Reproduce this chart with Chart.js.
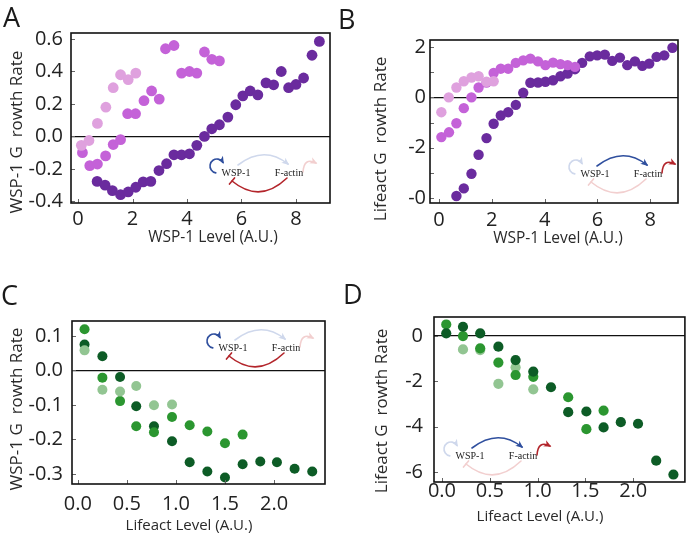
<!DOCTYPE html>
<html><head><meta charset="utf-8">
<script src="https://cdn.jsdelivr.net/npm/chart.js@4.4.0/dist/chart.umd.min.js"></script>
<style>
html,body{margin:0;padding:0;background:#fff;}
#wrap{position:relative;width:690px;height:533px;overflow:hidden;background:#fff;}
.pane{position:absolute;}
.letter{position:absolute;font-family:"Open Sans";font-size:27px;color:#1a1a1a;line-height:1;}
</style></head><body>
<div id="wrap">
<div class="pane" style="left:0;top:0;width:345px;height:255px"><canvas id="cA"></canvas></div>
<div class="pane" style="left:345px;top:0;width:345px;height:255px"><canvas id="cB"></canvas></div>
<div class="pane" style="left:0;top:255px;width:345px;height:278px"><canvas id="cC"></canvas></div>
<div class="pane" style="left:345px;top:255px;width:345px;height:278px"><canvas id="cD"></canvas></div>
<div class="letter" style="left:3px;top:3px">A</div>
<div class="letter" style="left:338px;top:5px">B</div>
<div class="letter" style="left:1px;top:281px">C</div>
<div class="letter" style="left:343px;top:280px">D</div>
</div>
<script>
// ---------- Panel A : WSP-1 growth rate vs WSP-1 level ----------
const aLevelLight = [0.12,0.40,0.71,1.02,1.29,1.56,1.84,2.12];
const aRateLight  = [-0.055,-0.025,0.08,0.18,0.30,0.38,0.35,0.39];
const aLevelMid   = [0.16,0.43,0.71,1.01,1.29,1.56,1.82,2.11,2.42,2.70,2.98,3.21,3.52,3.80,4.09,4.36,4.64,4.91,5.19];
const aRateMid    = [-0.10,-0.18,-0.17,-0.12,-0.05,-0.02,0.14,0.14,0.22,0.28,0.23,0.54,0.56,0.39,0.40,0.39,0.52,0.475,0.465];
const aLevelDark  = [0.70,0.99,1.26,1.56,1.84,2.12,2.39,2.67,2.97,3.25,3.52,3.80,4.09,4.36,4.64,4.91,5.19,5.50,5.79,6.05,6.32,6.60,6.90,7.18,7.46,7.73,8.00,8.28,8.59,8.86];
const aRateDark   = [-0.277,-0.30,-0.334,-0.359,-0.342,-0.313,-0.28,-0.277,-0.21,-0.168,-0.113,-0.113,-0.107,-0.055,0.0,0.047,0.072,0.119,0.195,0.25,0.28,0.256,0.33,0.318,0.40,0.30,0.32,0.36,0.50,0.585];
const aXTickValues = [0,2,4,6,8];
const aXTickLabels = ['0','2','4','6','8'];
const aYTickValues = [0.6,0.4,0.2,0,-0.2,-0.4];
const aYTickLabels = ['0.6','0.4','0.2','0.0','-0.2','-0.4'];

// ---------- Panel B : Lifeact growth rate vs WSP-1 level ----------
const bLevelLight = [0.09,0.37,0.66,0.94,1.23,1.50,1.80,2.07];
const bRateLight  = [-0.59,0.0,0.39,0.64,0.79,0.84,0.62,0.64];
const bLevelMid   = [0.09,0.38,0.66,0.94,1.23,1.50,1.80,2.07,2.34,2.62,2.91,3.19,3.46,3.75,4.03,4.32,4.60,4.87,5.15];
const bRateMid    = [-1.58,-1.39,-1.03,-0.43,0.0,0.39,0.59,0.97,1.14,1.14,1.37,1.47,1.54,1.43,1.28,1.38,1.32,1.28,1.21];
const bLevelDark  = [0.66,0.94,1.23,1.50,1.80,2.07,2.34,2.62,2.91,3.19,3.46,3.75,4.03,4.32,4.60,4.87,5.15,5.42,5.71,5.99,6.28,6.56,6.85,7.13,7.42,7.70,7.96,8.24,8.53,8.84];
const bRateDark   = [-3.92,-3.62,-3.04,-2.28,-1.62,-1.05,-0.72,-0.59,-0.30,0.18,0.58,0.59,0.62,0.68,0.84,0.95,1.12,1.37,1.63,1.67,1.70,1.45,1.58,1.28,1.43,1.25,1.34,1.61,1.67,1.97];
const bXTickValues = [0,2,4,6,8];
const bXTickLabels = ['0','2','4','6','8'];
const bYTickValues = [2,1,0,-1,-2,-3,-4];
const bYTickLabels = ['2','','0','','-2','','-0'];

// ---------- Panel C : WSP-1 growth rate vs Lifeact level ----------
const cLevelDark  = [0.068,0.25,0.43,0.595,0.776,0.96,1.14,1.32,1.50,1.68,1.86,2.03,2.21,2.39];
const cRateDark   = [0.075,0.041,-0.019,-0.104,-0.162,-0.205,-0.266,-0.293,-0.31,-0.272,-0.264,-0.266,-0.285,-0.293];
const cLevelMid   = [0.068,0.25,0.43,0.595,0.776,0.96,1.14,1.32,1.50,1.68];
const cRateMid    = [0.119,-0.021,-0.089,-0.162,-0.179,-0.135,-0.159,-0.177,-0.211,-0.186];
const cLevelLight = [0.068,0.25,0.43,0.595,0.776,0.96];
const cRateLight  = [0.058,-0.056,-0.061,-0.045,-0.101,-0.099];
const cXTickValues = [0,0.5,1,1.5,2];
const cXTickLabels = ['0.0','0.5','1.0','1.5','2.0'];
const cYTickValues = [0.1,0,-0.1,-0.2,-0.3];
const cYTickLabels = ['0.1','0.0','-0.1','-0.2','-0.3'];

// ---------- Panel D : Lifeact growth rate vs Lifeact level ----------
const dLevelDark  = [0.045,0.22,0.40,0.59,0.77,0.955,1.14,1.32,1.51,1.69,1.87,2.05,2.24,2.42];
const dRateDark   = [0.12,0.41,0.12,-0.47,-1.06,-1.57,-2.26,-3.36,-3.33,-4.03,-3.80,-3.87,-5.50,-6.11];
const dLevelMid   = [0.045,0.22,0.40,0.59,0.77,0.955,1.32,1.51,1.69];
const dRateMid    = [0.51,0.0,-0.54,-1.17,-1.72,-1.80,-2.70,-4.11,-3.29];
const dLevelLight = [0.22,0.40,0.59,0.77,0.955];
const dRateLight  = [-0.59,-0.62,-2.11,-1.38,-2.35];
const dXTickValues = [0,0.5,1,1.5,2];
const dXTickLabels = ['0.0','0.5','1.0','1.5','2.0'];
const dYTickValues = [0,-2,-4,-6];
const dYTickLabels = ['0','-2','-4','-6'];

const PURPLE = {light:'#dfa1de', mid:'#c462d8', dark:'#6a2b9e'};
const GREEN  = {light:'#92c592', mid:'#2b9630', dark:'#0d5c26'};

function pts(xs, ys){ return xs.map((x,i)=>({x:x, y:ys[i]})); }

function ds(label, xs, ys, color, r){
  return {label:label, data:pts(xs,ys), backgroundColor:color, borderWidth:0,
          pointRadius:r, pointHoverRadius:r};
}

function arrowHead(ctx, x, y, ang, size, color){
  ctx.save(); ctx.translate(x,y); ctx.rotate(ang);
  ctx.beginPath(); ctx.moveTo(1.5,0); ctx.lineTo(-size,-size*0.55); ctx.lineTo(-size*0.65,0); ctx.lineTo(-size,size*0.55); ctx.closePath();
  ctx.fillStyle=color; ctx.fill(); ctx.restore();
}

function drawInset(ctx, cx, cy, mode){
  const blue='#2f4f9e', fadeBlue='#cfd8ec', red='#b3252b', fadePink='#f2cfcf';
  const selfC  = mode==='wsp' ? blue : fadeBlue;
  const topC   = mode==='wsp' ? fadeBlue : blue;
  const rightC = mode==='wsp' ? fadePink : red;
  const botC   = mode==='wsp' ? red : fadePink;
  const D = Math.PI/180;
  ctx.save();
  ctx.lineWidth = 1.6; ctx.lineCap='round';
  const lx=cx-19, ly=cy-7, r=7;
  ctx.strokeStyle=selfC; ctx.beginPath(); ctx.arc(lx,ly,r,100*D,330*D); ctx.stroke();
  arrowHead(ctx, lx+r*Math.cos(330*D), ly+r*Math.sin(330*D), 60*D, 6, selfC);
  ctx.strokeStyle=topC; ctx.beginPath(); ctx.moveTo(cx+2,cy-8); ctx.quadraticCurveTo(cx+28,cy-28,cx+52,cy-9); ctx.stroke();
  arrowHead(ctx, cx+52, cy-9, Math.atan2(19,24), 6, topC);
  ctx.strokeStyle=rightC; ctx.beginPath(); ctx.moveTo(cx+67,cy-1); ctx.quadraticCurveTo(cx+68,cy-16,cx+80,cy-10); ctx.stroke();
  arrowHead(ctx, cx+80, cy-10, Math.atan2(6,12), 6, rightC);
  ctx.strokeStyle=botC; ctx.beginPath(); ctx.moveTo(cx+51,cy+5); ctx.quadraticCurveTo(cx+24,cy+31,cx-4,cy+8); ctx.stroke();
  const tx=-28, ty=-23, n=Math.hypot(tx,ty), px=ty/n, py=-tx/n;
  ctx.beginPath(); ctx.moveTo(cx-4-px*4, cy+8-py*4); ctx.lineTo(cx-4+px*4, cy+8+py*4); ctx.stroke();
  ctx.fillStyle='#222'; ctx.font='10px "Liberation Serif"'; ctx.textAlign='center'; ctx.textBaseline='middle';
  ctx.fillText('WSP-1', cx, cy);
  ctx.fillText('F-actin', cx+53, cy);
  ctx.restore();
}

const decor = {
  id:'decor',
  afterDraw(chart, args, o){
    const ctx=chart.ctx, a=chart.chartArea;
    const xs=chart.scales.x, ys=chart.scales.y;
    ctx.save();
    ctx.strokeStyle='#666'; ctx.lineWidth=1;
    xs.ticks.forEach(t=>{ const p=Math.round(xs.getPixelForValue(t.value))+0.5; ctx.beginPath(); ctx.moveTo(p,a.bottom); ctx.lineTo(p,a.bottom-4); ctx.stroke(); });
    ys.ticks.forEach(t=>{ const p=Math.round(ys.getPixelForValue(t.value))+0.5; ctx.beginPath(); ctx.moveTo(a.left,p); ctx.lineTo(a.left+4,p); ctx.stroke(); });
    ctx.strokeStyle='#111'; ctx.lineWidth=1.6;
    ctx.strokeRect(a.left,a.top,a.right-a.left,a.bottom-a.top);
    drawInset(ctx, a.left+o.inset[0], a.top+o.inset[1], o.insetMode);
    ctx.fillStyle='#2a2a2a'; ctx.textAlign='center'; ctx.textBaseline='middle';
    ctx.font=o.xTitleSize+'px "Open Sans"';
    ctx.fillText(o.xTitle, o.xTitlePos[0], o.xTitlePos[1]);
    ctx.translate(o.yTitlePos[0], o.yTitlePos[1]); ctx.rotate(-Math.PI/2);
    ctx.font='17px "Open Sans"';
    ctx.fillText(o.yTitle, 0, 0);
    ctx.restore();
  }
};

function makeChart(id, c){
  const tickFont = {family:'Open Sans', size:20};
  return new Chart(document.getElementById(id), {
    type:'scatter',
    data:{datasets:c.datasets},
    plugins:[decor],
    options:{
      responsive:true, maintainAspectRatio:false, animation:false,
      layout:{padding:{top:c.pad[0], right:c.pad[1], bottom:0, left:0}},
      plugins:{legend:{display:false}, tooltip:{enabled:false}, decor:c.decor},
      scales:{
        x:{type:'linear', min:c.xr[0], max:c.xr[1],
           afterBuildTicks:s=>{ s.ticks = c.xTickValues.map(v=>({value:v})); },
           afterFit:s=>{ s.height=c.xAxisH; },
           ticks:{font:tickFont, color:'#222', padding:c.xLabPad, maxRotation:0, autoSkip:false,
                  callback:v=>{ const i=c.xTickValues.indexOf(v); return i>=0?c.xTickLabels[i]:''; }},
           grid:{display:false, drawTicks:false}, border:{display:false}},
        y:{type:'linear', min:c.yr[0], max:c.yr[1],
           afterBuildTicks:s=>{ s.ticks = c.yTickValues.map(v=>({value:v})); },
           afterFit:s=>{ s.width=c.yAxisW; },
           ticks:{font:tickFont, color:'#222', padding:c.yLabPad, autoSkip:false,
                  callback:v=>{ const i=c.yTickValues.indexOf(v); return i>=0?c.yTickLabels[i]:''; }},
           grid:{drawTicks:false, lineWidth:1.3, color:ctx=> (ctx.tick && ctx.tick.value===0) ? '#111' : 'rgba(0,0,0,0)'},
           border:{display:false}}
      }
    }
  });
}

makeChart('cA', {
  datasets:[ds('Light',aLevelLight,aRateLight,PURPLE.light,5.4), ds('Medium',aLevelMid,aRateMid,PURPLE.mid,5.4), ds('Dark',aLevelDark,aRateDark,PURPLE.dark,5.4)],
  xr:[-0.26,9.25], yr:[-0.41,0.637], pad:[33,15], yAxisW:71, xAxisH:52, xLabPad:4, yLabPad:8,
  xTickValues:aXTickValues, xTickLabels:aXTickLabels, yTickValues:aYTickValues, yTickLabels:aYTickLabels,
  decor:{inset:[165,140], insetMode:'wsp', xTitle:'WSP-1 Level (A.U.)', xTitleSize:15.5, xTitlePos:[213,238], yTitle:'WSP-1 G  rowth Rate', yTitlePos:[17,132]}
});
makeChart('cB', {
  datasets:[ds('Light',bLevelLight,bRateLight,PURPLE.light,5.2), ds('Medium',bLevelMid,bRateMid,PURPLE.mid,5.2), ds('Dark',bLevelDark,bRateDark,PURPLE.dark,5.2)],
  xr:[-0.34,9.05], yr:[-4.2,2.28], pad:[40,12], yAxisW:85, xAxisH:52, xLabPad:5, yLabPad:4,
  xTickValues:bXTickValues, xTickLabels:bXTickLabels, yTickValues:bYTickValues, yTickLabels:bYTickLabels,
  decor:{inset:[165,134], insetMode:'actin', xTitle:'WSP-1 Level (A.U.)', xTitleSize:15.5, xTitlePos:[213,239], yTitle:'Lifeact G  rowth Rate', yTitlePos:[36,139]}
});
makeChart('cC', {
  datasets:[ds('Light',cLevelLight,cRateLight,GREEN.light,5), ds('Medium',cLevelMid,cRateMid,GREEN.mid,5), ds('Dark',cLevelDark,cRateDark,GREEN.dark,5)],
  xr:[-0.06,2.52], yr:[-0.329,0.143], pad:[66,20], yAxisW:72, xAxisH:49, xLabPad:8, yLabPad:9,
  xTickValues:cXTickValues, xTickLabels:cXTickLabels, yTickValues:cYTickValues, yTickLabels:cYTickLabels,
  decor:{inset:[161,27], insetMode:'wsp', xTitle:'Lifeact Level (A.U.)', xTitleSize:15, xTitlePos:[189,271], yTitle:'WSP-1 G  rowth Rate', yTitlePos:[17,154]}
});
makeChart('cD', {
  datasets:[ds('Dark',dLevelDark,dRateDark,GREEN.dark,5.1), ds('Medium',dLevelMid,dRateMid,GREEN.mid,5.1), ds('Light',dLevelLight,dRateLight,GREEN.light,5.1)],
  xr:[-0.083,2.54], yr:[-6.44,0.84], pad:[62,3], yAxisW:89, xAxisH:51, xLabPad:-3, yLabPad:11,
  xTickValues:dXTickValues, xTickLabels:dXTickLabels, yTickValues:dYTickValues, yTickLabels:dYTickLabels,
  decor:{inset:[36,139], insetMode:'actin', xTitle:'Lifeact Level (A.U.)', xTitleSize:15, xTitlePos:[195,262], yTitle:'Lifeact G  rowth Rate', yTitlePos:[37,156]}
});
</script>
</body></html>
